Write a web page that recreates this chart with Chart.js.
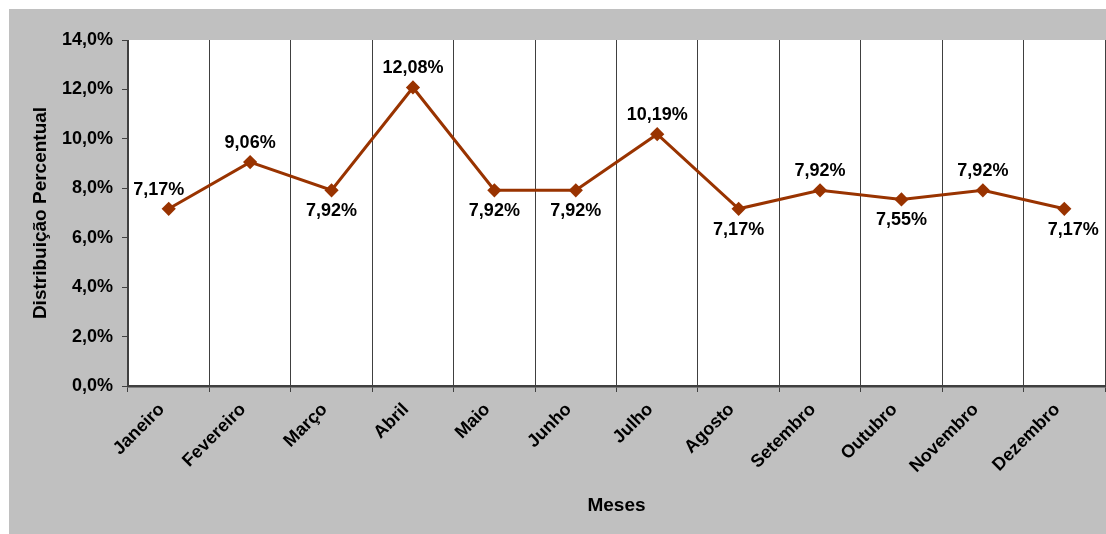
<!DOCTYPE html>
<html>
<head>
<meta charset="utf-8">
<script src="https://cdn.jsdelivr.net/npm/chart.js@4/dist/chart.umd.min.js"></script>
<style>
	html, body { margin: 0; background: #fff; overflow: hidden; }
	canvas { display: block; }
</style>
</head>
<body>
<!-- a bit wider than the window: the line's point overflow eats the right margin -->
<canvas id="myChart" width="1113" height="534"></canvas>
<script>
const meses = ['Janeiro', 'Fevereiro', 'Março', 'Abril', 'Maio', 'Junho', 'Julho', 'Agosto', 'Setembro', 'Outubro', 'Novembro', 'Dezembro'];
const distribuicao = [7.17, 9.06, 7.92, 12.08, 7.92, 7.92, 10.19, 7.17, 7.92, 7.55, 7.92, 7.17];
// where each value label goes relative to its point
const labelPos = ['above', 'above', 'below', 'above', 'below', 'below', 'above', 'below', 'above', 'below', 'above', 'below'];
const yTicks = [0, 2, 4, 6, 8, 10, 12, 14];

const lineColor = '#993300';
const axisColor = '#404040';
const fontFamily = '"Liberation Sans", Arial, sans-serif';

function pct(v, casas) {
	return v.toFixed(casas).replace('.', ',') + '%';
}

// grey panel behind everything, white plot area
const fundo = {
	id: 'fundo',
	beforeDraw(chart) {
		const ctx = chart.ctx;
		const a = chart.chartArea;
		ctx.save();
		ctx.fillStyle = '#c0c0c0';
		ctx.fillRect(9, 9, chart.width - 9, chart.height - 9);
		ctx.fillStyle = '#ffffff';
		ctx.fillRect(a.left, a.top, a.right - a.left, a.bottom - a.top);
		ctx.restore();
	},
};

// value labels above / below the points
const rotulos = {
	id: 'rotulos',
	afterDatasetsDraw(chart) {
		const ctx = chart.ctx;
		const pts = chart.getDatasetMeta(0).data;
		ctx.save();
		ctx.font = 'bold 18px ' + fontFamily;
		ctx.fillStyle = '#000';
		ctx.textAlign = 'center';
		ctx.textBaseline = 'middle';
		for (let i = 0; i < pts.length; i++) {
			let x = pts[i].x;
			if (i === 0) x -= 10;
			if (i === pts.length - 1) x += 9;
			const y = labelPos[i] === 'above' ? pts[i].y - 19 : pts[i].y + 21;
			ctx.fillText(pct(distribuicao[i], 2), x, y);
		}
		ctx.restore();
	},
};

const data = {
	labels: meses,
	datasets: [
		{
			label: 'Distribuição Percentual',
			data: distribuicao,
			borderColor: lineColor,
			backgroundColor: lineColor,
			borderWidth: 3,
			pointStyle: 'rectRot',
			pointRadius: 5,
			pointHoverRadius: 5,
			tension: 0,
		},
	],
};

const config = {
	type: 'line',
	data: data,
	options: {
		responsive: false,
		animation: false,
		layout: { padding: { top: 40, left: 9, right: 0, bottom: 0 } },
		plugins: {
			legend: { display: false },
			tooltip: { enabled: false },
		},
		scales: {
			x: {
				offset: true,
				grid: {
					offset: true,
					color: axisColor,
					lineWidth: 1,
					tickLength: 6,
				},
				border: { color: axisColor, width: 2.5 },
				ticks: {
					maxRotation: 45,
					minRotation: 45,
					padding: 7,
					labelOffset: -7,
					color: '#000',
					font: { family: fontFamily, size: 18, weight: 'bold' },
				},
				title: {
					display: true,
					text: 'Meses',
					color: '#000',
					font: { family: fontFamily, size: 19, weight: 'bold' },
					padding: { top: 0, bottom: 17 },
				},
				afterFit(scale) {
					scale.height = 148;
					scale.paddingLeft = 0;
					scale.paddingRight = 0;
				},
			},
			y: {
				min: 0,
				max: 14,
				afterBuildTicks(scale) {
					scale.ticks = yTicks.map((v) => ({ value: v }));
				},
				grid: {
					drawOnChartArea: false,
					color: axisColor,
					tickLength: 6,
				},
				border: { color: axisColor, width: 1 },
				ticks: {
					padding: 9,
					color: '#000',
					font: { family: fontFamily, size: 18, weight: 'bold' },
					callback: (v) => pct(v, 1),
				},
				title: {
					display: true,
					text: 'Distribuição Percentual',
					color: '#000',
					font: { family: fontFamily, size: 19, weight: 'bold' },
					padding: { top: 20, bottom: 0 },
				},
				afterFit(scale) {
					scale.width = 119;
				},
			},
		},
	},
	plugins: [fundo, rotulos],
};

const myChart = new Chart(document.getElementById('myChart'), config);
</script>
</body>
</html>
